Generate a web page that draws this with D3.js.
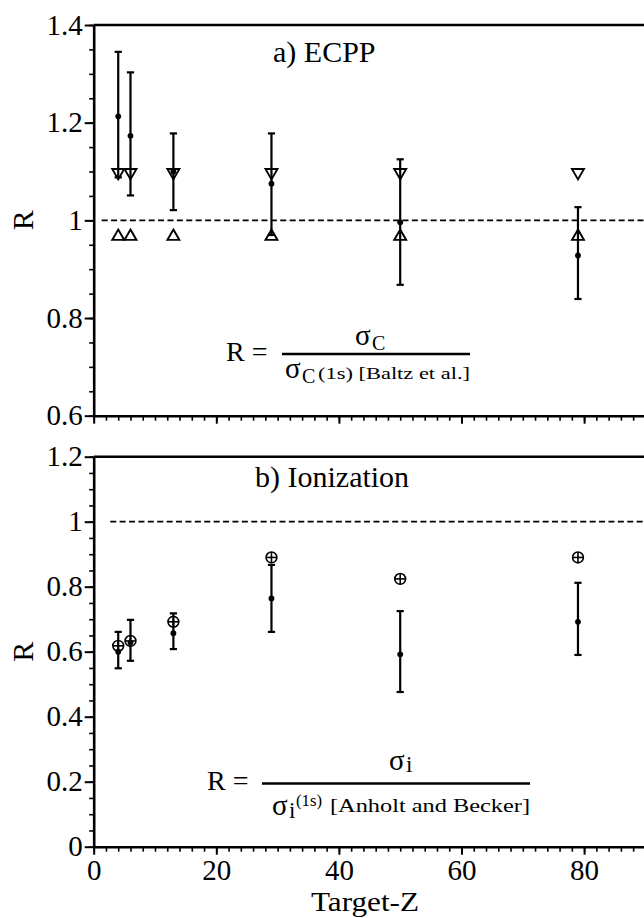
<!DOCTYPE html>
<html><head><meta charset="utf-8">
<script src="https://cdn.jsdelivr.net/npm/d3@7"></script>
<style>
body{margin:0;background:#fff}
svg{display:block}
svg text{font-family:"Liberation Serif","Times New Roman",Times,"DejaVu Serif",serif !important;fill:#000}
</style>
</head><body><svg id="c" width="644" height="918"></svg>
<script>
// ---- data ----
const targetZ = [4, 6, 13, 29, 50, 79];
// a) ECPP
const ecppR  = [1.213, 1.173, 1.100, 1.075, 0.996, 0.928];
const ecppLo = [1.088, 1.051, 1.021, 0.970, 0.868, 0.839];
const ecppHi = [1.345, 1.303, 1.178, 1.178, 1.125, 1.027];
const ecppTheoryDown = [1.098, 1.098, 1.098, 1.098, 1.098, 1.098];
const ecppTheoryUp   = [0.967, 0.967, 0.967, 0.967, 0.967, 0.967];
// b) Ionization
const ionR  = [0.600, 0.628, 0.657, 0.764, 0.592, 0.692];
const ionLo = [0.549, 0.572, 0.608, 0.661, 0.476, 0.590];
const ionHi = [0.661, 0.698, 0.718, 0.867, 0.725, 0.812];
const ionTheory = [0.618, 0.633, 0.692, 0.890, 0.824, 0.890];
// ticks
const xTicks = [0, 20, 40, 60, 80];
const xTickLabels = ["0", "20", "40", "60", "80"];
const topYTicks = [0.6, 0.8, 1, 1.2, 1.4];
const topYTickLabels = ["0.6", "0.8", "1", "1.2", "1.4"];
const botYTicks = [0, 0.2, 0.4, 0.6, 0.8, 1, 1.2];
const botYTickLabels = ["0", "0.2", "0.4", "0.6", "0.8", "1", "1.2"];

// ---- layout ----
const W = 644, H = 918;
const FONT = '"Liberation Serif","Times New Roman",Times,"DejaVu Serif",serif';
const svg = d3.select("#c");
const x = d3.scaleLinear().domain([0, 90]).range([93.7, 645.4]);
const yTop = d3.scaleLinear().domain([0.6, 1.4]).range([415.7, 25]);
const yBot = d3.scaleLinear().domain([0, 1.2]).range([846.7, 456.7]);

function steps(a, b, s) { const o = []; const n = Math.round((b - a) / s); for (let i = 0; i <= n; i++) o.push(+(a + i * s).toFixed(5)); return o; }

function styleAxis(g, fs) {
  g.attr("font-family", FONT);
  g.select(".domain").attr("stroke", "#000").attr("stroke-width", 2.6);
  g.selectAll(".tick line").attr("stroke", "#000").attr("stroke-width", 2);
  g.selectAll(".tick text").style("font-size", fs + "px").attr("fill", "#000")
    .style("font-family", FONT);
}

function panel(y, yTicks, yLabels, showX) {
  const [y0, y1] = y.domain();
  const bottom = y.range()[0], top = y.range()[1];
  const gm = svg.append("g").attr("transform", `translate(${x(0)},0)`)
    .call(d3.axisLeft(y).tickValues(steps(y0, y1, 0.05)).tickSize(4.5).tickFormat(""));
  gm.select(".domain").remove();
  gm.selectAll(".tick line").attr("stroke", "#000").attr("stroke-width", 1.6);
  const gy = svg.append("g").attr("transform", `translate(${x(0)},0)`)
    .call(d3.axisLeft(y).tickValues(yTicks).tickSize(9).tickSizeOuter(0).tickPadding(2)
      .tickFormat((d, i) => yLabels[i]));
  styleAxis(gy, 29);
  const gxm = svg.append("g").attr("transform", `translate(0,${bottom})`)
    .call(d3.axisBottom(x).tickValues(steps(0, 90, 2)).tickSize(5).tickFormat(""));
  gxm.select(".domain").remove();
  gxm.selectAll(".tick line").attr("stroke", "#000").attr("stroke-width", 1.6);
  const gx = svg.append("g").attr("transform", `translate(0,${bottom})`)
    .call(d3.axisBottom(x).tickValues(xTicks).tickSize(8).tickSizeOuter(0).tickPadding(5)
      .tickFormat((d, i) => showX ? xTickLabels[i] : ""));
  styleAxis(gx, 29);
  svg.append("line").attr("x1", x(0)).attr("x2", W + 5).attr("y1", top).attr("y2", top)
    .attr("stroke", "#000").attr("stroke-width", 2.6);
}

panel(yTop, topYTicks, topYTickLabels, false);
panel(yBot, botYTicks, botYTickLabels, true);

// reference lines R = 1
svg.append("line").attr("x1", x(1.3)).attr("x2", W + 5).attr("y1", yTop(1)).attr("y2", yTop(1))
  .attr("stroke", "#000").attr("stroke-width", 1.7).attr("stroke-dasharray", "6,3.4");
svg.append("line").attr("x1", x(2.7)).attr("x2", W + 5).attr("y1", yBot(1)).attr("y2", yBot(1))
  .attr("stroke", "#000").attr("stroke-width", 1.7).attr("stroke-dasharray", "6,3.4");

// ---- marks ----
function errorBars(y, vals, lo, hi) {
  const g = svg.append("g").attr("stroke", "#000").attr("stroke-width", 2.2);
  targetZ.forEach((z, i) => {
    const cx = x(z);
    g.append("line").attr("x1", cx).attr("x2", cx).attr("y1", y(lo[i])).attr("y2", y(hi[i]));
    g.append("line").attr("x1", cx - 3.6).attr("x2", cx + 3.6).attr("y1", y(lo[i])).attr("y2", y(lo[i]));
    g.append("line").attr("x1", cx - 3.6).attr("x2", cx + 3.6).attr("y1", y(hi[i])).attr("y2", y(hi[i]));
  });
  svg.append("g").selectAll("circle").data(vals).join("circle")
    .attr("cx", (d, i) => x(targetZ[i])).attr("cy", d => y(d)).attr("r", 2.9).attr("fill", "#000");
}

errorBars(yTop, ecppR, ecppLo, ecppHi);
const triD = d3.symbol().type(d3.symbolTriangle).size(62);
svg.append("g").selectAll("path").data(ecppTheoryDown).join("path")
  .attr("d", triD)
  .attr("transform", (d, i) => `translate(${x(targetZ[i])},${yTop(d)}) rotate(180)`)
  .attr("fill", "none").attr("stroke", "#000").attr("stroke-width", 1.9);
svg.append("g").selectAll("path").data(ecppTheoryUp).join("path")
  .attr("d", triD)
  .attr("transform", (d, i) => `translate(${x(targetZ[i])},${yTop(d)})`)
  .attr("fill", "none").attr("stroke", "#000").attr("stroke-width", 1.9);

errorBars(yBot, ionR, ionLo, ionHi);
const cp = svg.append("g").attr("stroke", "#000").attr("stroke-width", 1.6).attr("fill", "none");
ionTheory.forEach((v, i) => {
  const cx = x(targetZ[i]), cy = yBot(v), r = 5.4;
  cp.append("circle").attr("cx", cx).attr("cy", cy).attr("r", r);
  cp.append("line").attr("x1", cx - r).attr("x2", cx + r).attr("y1", cy).attr("y2", cy);
  cp.append("line").attr("x1", cx).attr("x2", cx).attr("y1", cy - r).attr("y2", cy + r);
});

// ---- text ----
function txt(s, xx, yy, fs, anchor, extra) {
  const t = svg.append("text").attr("x", xx).attr("y", yy).style("font-size", fs + "px")
    .style("font-family", FONT).attr("text-anchor", anchor || "start").text(s);
  if (extra) extra(t);
  return t;
}
txt("a) ECPP", 273, 62, 30);
txt("b) Ionization", 255, 487, 30);

svg.append("text").attr("transform", `translate(33,${(yTop.range()[0] + yTop.range()[1]) / 2}) rotate(-90)`)
  .attr("text-anchor", "middle").style("font-size", "30px").style("font-family", FONT).text("R");
svg.append("text").attr("transform", `translate(33,${(yBot.range()[0] + yBot.range()[1]) / 2}) rotate(-90)`)
  .attr("text-anchor", "middle").style("font-size", "30px").style("font-family", FONT).text("R");
txt("Target-Z", 365, 911, 28, "middle", t => t.attr("textLength", 108).attr("lengthAdjust", "spacingAndGlyphs"));

// formula a
txt("R =", 226, 361, 28);
svg.append("line").attr("x1", 282).attr("x2", 470).attr("y1", 354).attr("y2", 354)
  .attr("stroke", "#000").attr("stroke-width", 2.6);
txt("σ", 355, 345, 29);
txt("C", 372, 350, 20);
txt("σ", 285, 378, 29);
txt("C", 302, 383, 20);
txt("(1s) [Baltz et al.]", 318, 379, 17, "start", t => t.attr("textLength", 152).attr("lengthAdjust", "spacingAndGlyphs"));

// formula b
txt("R =", 207, 790, 28);
svg.append("line").attr("x1", 262).attr("x2", 530).attr("y1", 783.5).attr("y2", 783.5)
  .attr("stroke", "#000").attr("stroke-width", 2.6);
txt("σ", 389, 770, 29);
txt("i", 406, 772, 23);
txt("σ", 272, 815, 29);
txt("i", 289, 818, 23);
txt("(1s)", 296, 806, 16, "start", t => t.attr("textLength", 26).attr("lengthAdjust", "spacingAndGlyphs"));
txt("[Anholt and Becker]", 330, 812, 18, "start", t => t.attr("textLength", 200).attr("lengthAdjust", "spacingAndGlyphs"));
</script>
</body></html>
